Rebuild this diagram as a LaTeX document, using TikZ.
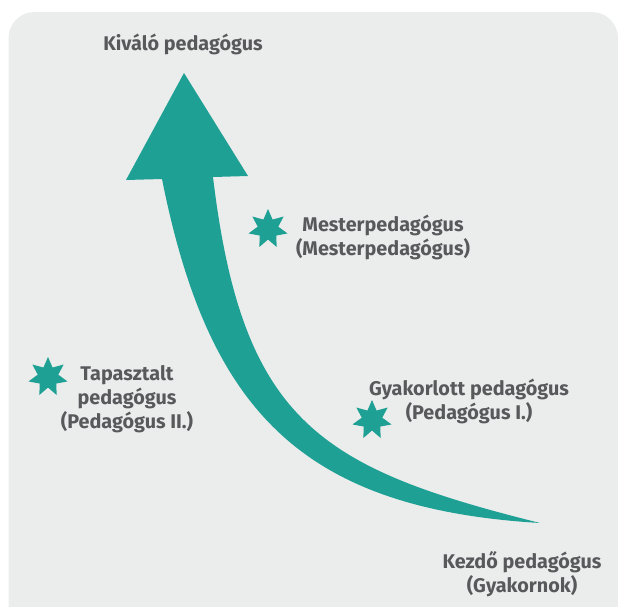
\documentclass[tikz,border=0pt]{standalone}
\usepackage{fontspec}
\setmainfont{Fira Sans}
\usetikzlibrary{shapes.geometric}
\definecolor{bgc}{RGB}{235,236,236}
\definecolor{teal}{RGB}{30,161,148}
\definecolor{txt}{RGB}{88,89,91}
\tikzset{
  lbl/.style={text=txt, font=\fontsize{19.8}{24}\selectfont\bfseries, align=center, inner sep=0pt},
  starmark/.style={star, star points=7, star point ratio=1.9, fill=teal, draw=none, minimum size=40pt, inner sep=0pt}
}
\begin{document}
\begin{tikzpicture}[x=1pt,y=-1pt]
\useasboundingbox (0,0) rectangle (618,606);
% background panel
\fill[bgc, rounded corners=26pt] (8.5,650) -- (8.5,12) -- (618,12) -- (618,650) -- cycle;
% curved arrow
\fill[teal] (162,179) .. controls (208,409) and (300,508.6) .. (540,523)
  .. controls (320,468) and (242.4,422) .. (213,177)
  -- (248,176) -- (184,73) -- (126,180) -- cycle;
% stars
\node[starmark] (s1) at (268,229) {};
\node[starmark] (s2) at (48,377) {};
\node[starmark] (s3) at (372,420) {};
% labels
\node[lbl, anchor=base] (top) at (183,50) {Kiváló pedagógus};
\node[lbl] (mester) at (383,237) {Mesterpedagógus\\(Mesterpedagógus)};
\node[lbl] (tap) at (127,399) {Tapasztalt\\pedagógus\\(Pedagógus II.)};
\node[lbl] (gyak) at (469,401) {Gyakorlott pedagógus\\(Pedagógus I.)};
\node[lbl] (kezdo) at (522,574) {Kezdő pedagógus\\(Gyakornok)};
\end{tikzpicture}
\end{document}
